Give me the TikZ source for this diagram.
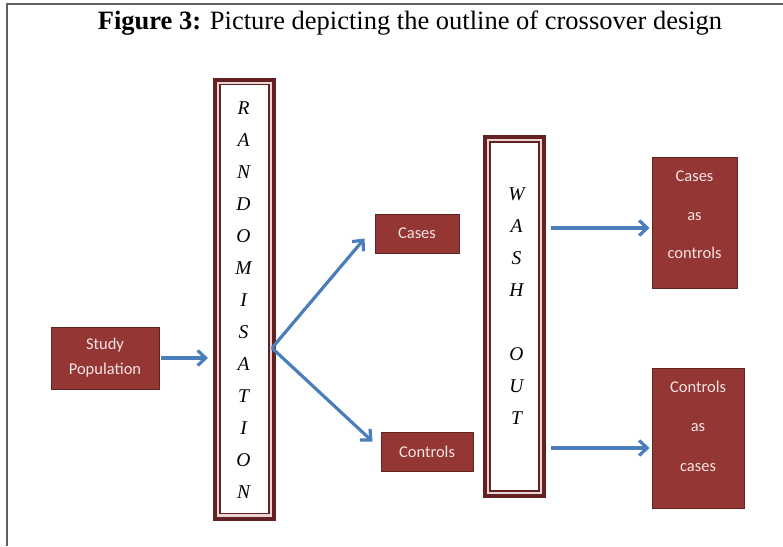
\documentclass[tikz,border=0pt]{standalone}
\usepackage{fontspec}
\setmainfont{Liberation Serif}
\newfontfamily\boxfont{Carlito}
\usetikzlibrary{arrows.meta,calc}

\definecolor{boxfill}{RGB}{148,54,52}
\definecolor{boxedge}{RGB}{96,36,34}
\definecolor{boxtext}{RGB}{244,228,227}
\definecolor{frameedge}{RGB}{99,33,33}
\definecolor{framegap}{RGB}{236,212,212}
\definecolor{arrowblue}{RGB}{74,126,187}
\definecolor{pagerule}{RGB}{95,95,95}

\tikzset{
  redbox/.style={draw=boxedge, line width=1pt, fill=boxfill, text=boxtext,
    font=\boxfont\fontsize{16.5}{25}\selectfont, inner sep=0pt, align=center},
  boxlines/.style={text=boxtext, inner sep=0pt, align=center},
  tallbox/.style={draw=frameedge, line width=4pt, fill=framegap, inner sep=0pt},
  tallinner/.style={draw=frameedge, line width=1.4pt, fill=white, inner sep=0pt},
  letters/.style={font=\itshape\fontsize{19.5}{32}\selectfont, align=center, inner sep=0pt},
  flow/.style={draw=arrowblue, line width=3.2pt,
    -{Straight Barb[length=8pt,width=15pt,line width=3.2pt]}}
}

\begin{document}
\begin{tikzpicture}[x=1pt,y=-1pt]
\useasboundingbox (0,0) rectangle (783,546);

% page rules at the top and left
\draw[pagerule, line width=1.6pt] (7,546) -- (7,4) -- (783,4);

% title
\node (title) at (410,23) {\fontsize{26.5}{30}\selectfont\textbf{Figure 3:} Picture depicting the outline of crossover design};

% tall framed columns
\node[tallbox, minimum width=59pt, minimum height=439pt] (rand) at (244.5,299) {};
\node[tallinner, minimum width=49pt, minimum height=429pt] (randin) at (244.5,299) {};
\node[letters] (randtext) at (243.5,300.5) {R\\A\\N\\D\\O\\M\\I\\S\\A\\T\\I\\O\\N};

\node[tallbox, minimum width=59pt, minimum height=359pt] (wash) at (514.5,316.5) {};
\node[tallinner, minimum width=49pt, minimum height=349pt] (washin) at (514.5,316.5) {};
\node[letters] (washtext) at (516.5,306) {W\\A\\S\\H\\\strut\\O\\U\\T};

% red boxes
\node[redbox, minimum width=108pt, minimum height=62pt] (study) at (105,358) {Study\\Population};
\node[redbox, minimum width=84pt, minimum height=39pt] (cases) at (417,233.5) {Cases};
\node[redbox, minimum width=92pt, minimum height=39pt] (controls) at (427,451.5) {Controls};
\node[redbox, minimum width=85pt, minimum height=131pt] (cac) at (694.5,222.5) {};
\node[boxlines, font=\boxfont\fontsize{16.5}{38.5}\selectfont] (cactext) at (694.5,215) {Cases\\as\\controls};
\node[redbox, minimum width=92pt, minimum height=140pt] (cas) at (698,438) {};
\node[boxlines, font=\boxfont\fontsize{16.5}{39.5}\selectfont] (castext) at (698,426) {Controls\\as\\cases};

% connectors
\draw[flow, shorten <=1pt, shorten >=5pt] (study.east) -- (rand.west |- study.east);

\coordinate (split) at ($(rand.east)+(-4,49)$);
\coordinate (toCases) at ($(cases.south west)+(-10,-15)$);
\coordinate (toControls) at ($(controls.north west)+(-8,10)$);
\draw[flow] (split) -- (toCases);
\draw[flow] (split) -- (toControls);

\coordinate (w1) at ($(wash.east |- 0,228)+(5,0)$);
\coordinate (w2) at ($(wash.east |- 0,448)+(5,0)$);
\draw[flow, shorten >=2pt] (w1) -- (w1 -| cac.west);
\draw[flow, shorten >=2pt] (w2) -- (w2 -| cas.west);
\end{tikzpicture}
\end{document}
